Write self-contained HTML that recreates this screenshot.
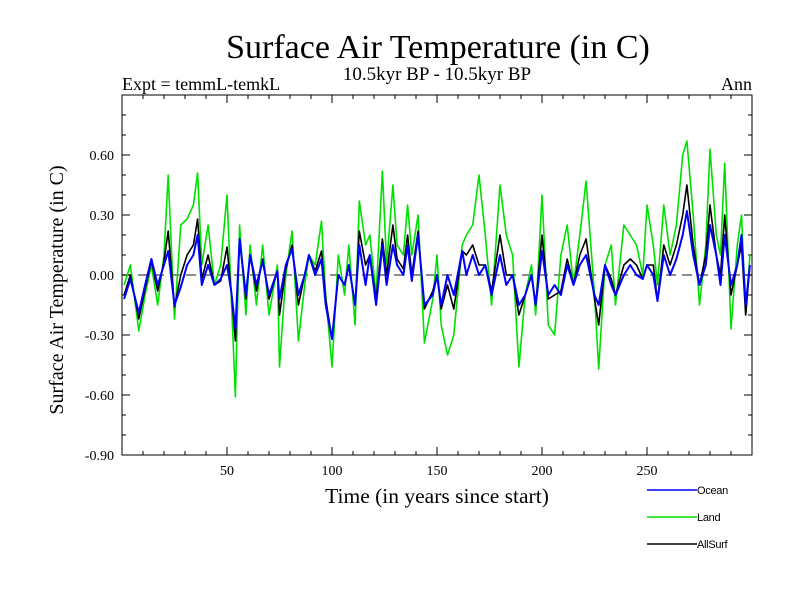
<!DOCTYPE html>
<html><head><meta charset="utf-8"><style>
body{margin:0;background:#fff;width:800px;height:600px;overflow:hidden}
svg text{font-family:"Liberation Serif",serif}
svg text.sans{font-family:"Liberation Sans",sans-serif}
</style></head><body>
<svg id="chart" width="800" height="600" xmlns="http://www.w3.org/2000/svg">
<text x="438" y="58" font-size="34" text-anchor="middle">Surface Air Temperature (in C)</text>
<text x="122" y="90" font-size="18">Expt = temmL-temkL</text>
<text x="437" y="80" font-size="19" text-anchor="middle">10.5kyr BP - 10.5kyr BP</text>
<text x="752" y="90" font-size="18" text-anchor="end">Ann</text>
<text transform="translate(63,290) rotate(-90)" font-size="20" text-anchor="middle">Surface Air Temperature (in C)</text>
<text x="437" y="503" font-size="21.5" text-anchor="middle">Time (in years since start)</text>
<g id="axes"></g>
<g id="series"></g>
<g id="legend"></g>
</svg>
<script>
const years=[1,4,8,11,14,17,20,22,25,28,31,34,36,38,41,44,47,50,52,54,56,59,61,64,67,70,74,75,78,81,84,87,89,92,95,97,100,103,106,108,111,113,116,118,121,124,126,129,131,134,136,138,141,144,148,150,152,155,158,162,164,167,170,173,176,180,183,186,189,192,195,197,200,203,206,209,212,215,218,221,225,227,230,233,235,239,242,245,248,250,253,255,258,261,264,267,269,272,275,278,280,283,285,287,290,293,295,297,299];
const ocean=[-0.12,-0.02,-0.19,-0.05,0.08,-0.05,0.05,0.12,-0.15,-0.06,0.05,0.10,0.20,-0.05,0.05,-0.05,-0.02,0.05,-0.08,-0.27,0.18,-0.10,0.10,-0.05,0.07,-0.10,0.02,-0.12,0.05,0.13,-0.10,0.0,0.10,0.0,0.08,-0.15,-0.32,0.00,-0.05,0.05,-0.15,0.15,-0.05,0.10,-0.15,0.15,-0.05,0.15,0.05,0.00,0.15,-0.03,0.20,-0.15,-0.10,0.00,-0.15,0.00,-0.10,0.12,0.0,0.10,0.0,0.05,-0.10,0.10,-0.05,0.0,-0.15,-0.10,0.0,-0.15,0.12,-0.10,-0.05,-0.10,0.05,-0.05,0.05,0.10,-0.10,-0.15,0.05,-0.05,-0.10,0.00,0.05,0.0,-0.02,0.05,0.0,-0.13,0.10,0.0,0.08,0.20,0.32,0.10,-0.05,0.05,0.25,0.10,-0.05,0.20,-0.05,0.05,0.20,-0.15,0.05];
const land=[-0.05,0.05,-0.28,-0.10,0.05,-0.15,0.10,0.50,-0.22,0.25,0.28,0.35,0.51,0.05,0.25,-0.05,0.05,0.40,-0.10,-0.61,0.25,-0.20,0.15,-0.15,0.15,-0.20,0.05,-0.46,0.00,0.22,-0.33,-0.05,0.10,0.05,0.27,-0.10,-0.46,0.10,-0.10,0.15,-0.25,0.37,0.15,0.20,-0.10,0.52,0.05,0.45,0.15,0.10,0.35,0.10,0.30,-0.34,-0.12,0.10,-0.25,-0.40,-0.30,0.15,0.20,0.25,0.50,0.20,-0.15,0.45,0.20,0.10,-0.46,-0.10,0.05,-0.20,0.40,-0.25,-0.30,0.10,0.25,-0.05,0.20,0.47,-0.10,-0.47,0.05,0.15,-0.15,0.25,0.20,0.15,0.00,0.35,0.15,-0.05,0.35,0.10,0.25,0.60,0.67,0.30,-0.15,0.15,0.63,0.20,0.10,0.56,-0.27,0.15,0.30,-0.20,0.10];
const allsurf=[-0.10,0.00,-0.22,-0.07,0.07,-0.08,0.07,0.22,-0.16,0.00,0.10,0.15,0.28,-0.02,0.10,-0.05,-0.03,0.14,-0.08,-0.33,0.18,-0.12,0.10,-0.08,0.08,-0.12,0.02,-0.20,0.03,0.15,-0.15,0.0,0.10,0.02,0.12,-0.12,-0.32,0.00,-0.05,0.05,-0.15,0.22,0.05,0.10,-0.12,0.18,0.0,0.25,0.08,0.03,0.20,0.0,0.22,-0.17,-0.08,0.0,-0.17,-0.05,-0.17,0.12,0.10,0.15,0.05,0.05,-0.08,0.20,0.0,0.0,-0.20,-0.10,0.0,-0.15,0.20,-0.12,-0.10,-0.08,0.08,-0.05,0.10,0.18,-0.12,-0.25,0.05,-0.02,-0.10,0.05,0.08,0.05,-0.02,0.05,0.05,-0.13,0.15,0.05,0.15,0.30,0.45,0.15,-0.05,0.10,0.35,0.10,0.0,0.30,-0.10,0.05,0.15,-0.20,0.05];
const yTicks=[0.60,0.30,0.00,-0.30,-0.60,-0.90];
const xTicks=[50,100,150,200,250];
const seriesNames=["Ocean","Land","AllSurf"];
const X0=122,X1=752,Y0=95,Y1=455;
const xs=v=>X0+(v-0)/(300-0)*(X1-X0);
const ys=v=>Y0+(0.9-v)/(0.9+0.9)*(Y1-Y0);
const NS="http://www.w3.org/2000/svg";
function mk(t,a,p){const e=document.createElementNS(NS,t);for(const k in a)e.setAttribute(k,a[k]);p.appendChild(e);return e;}
const ax=document.getElementById('axes');
let r=mk('rect',{x:X0,y:Y0,width:X1-X0,height:Y1-Y0,fill:'none',stroke:'#000','stroke-width':1},ax);


let z=mk('line',{x1:X0,x2:X1,y1:ys(0),y2:ys(0),stroke:'#666','stroke-width':1.5,'stroke-dasharray':'10,6'},ax);


for(let v=-0.9;v<=0.9001;v+=0.1){const y=ys(v);const maj=Math.abs(Math.round(v*10)%3)===0;const L=maj?8:4;
 let t1=mk('line',{x1:X0,x2:X0+L,y1:y,y2:y,stroke:'#000'},ax);
 
 
 let t2=mk('line',{x1:X1-L,x2:X1,y1:y,y2:y,stroke:'#000'},ax);
 
 }
yTicks.forEach(v=>{let t=mk('text',{x:X0-8,y:ys(v)+5,'font-size':14,'text-anchor':'end'},ax);t.textContent=v.toFixed(2);
 
 });
for(let v=10;v<300;v+=10){const x=xs(v);const L=v%50===0?8:4;
 let t1=mk('line',{x1:x,x2:x,y1:Y1,y2:Y1-L,stroke:'#000'},ax);
 
 
 let t2=mk('line',{x1:x,x2:x,y1:Y0,y2:Y0+L,stroke:'#000'},ax);
 
 }
xTicks.forEach(v=>{let t=mk('text',{x:xs(v),y:Y1+20,'font-size':14,'text-anchor':'middle'},ax);t.textContent=v;
 
 });
const sg=document.getElementById('series');
const data=[land,allsurf,ocean],cols=['#00e000','#000','#0000ff'],nm=['land-line','allsurf-line','ocean-line'];
data.forEach((d,i)=>{const pts=years.map((yr,j)=>xs(yr).toFixed(1)+','+ys(d[j]).toFixed(1)).join(' ');
 let p=mk('polyline',{points:pts,fill:'none',stroke:cols[i],'stroke-width':i===2?2:1.6,'stroke-linejoin':'round'},sg);
 
 });
const lg=document.getElementById('legend');
const lc=['#0000ff','#00e000','#000'];
seriesNames.forEach((n,i)=>{const y=490+i*27;
 let l=mk('line',{x1:647,x2:697,y1:y,y2:y,stroke:lc[i],'stroke-width':1.6},lg);
 
 
 let t=mk('text',{x:697,y:y+4,'font-size':11,'class':'sans','letter-spacing':'-0.3'},lg);t.textContent=n;
 
 });
</script>
</body></html>
